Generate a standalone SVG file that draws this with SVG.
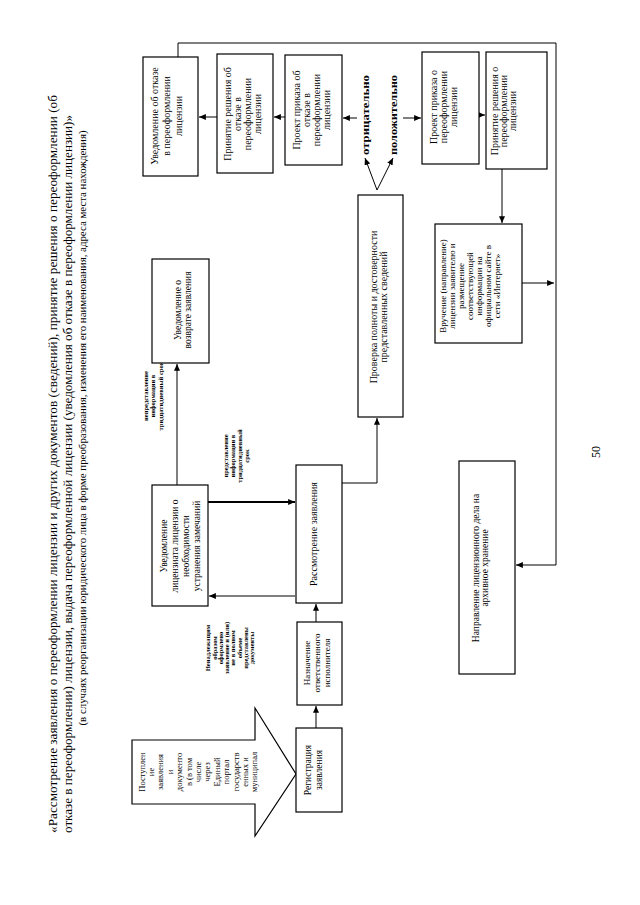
<svg xmlns="http://www.w3.org/2000/svg" width="640" height="905" viewBox="0 0 640 905">
<defs>
<marker id="ah" viewBox="0 0 8 7" refX="8" refY="3.5" markerWidth="7" markerHeight="6" markerUnits="userSpaceOnUse" orient="auto">
<path d="M0,0 L8,3.5 L0,7 z" fill="#000"/>
</marker>
</defs>
<style>
.box{fill:#fff;stroke:#000;stroke-width:1.2}
.t{font-family:"Liberation Serif","Times New Roman",serif;fill:#000}
.bt{font-family:"Liberation Serif","Times New Roman",serif;font-size:9.5px;fill:#000}
.lb{font-family:"Liberation Serif","Times New Roman",serif;font-size:6.5px;font-weight:bold;fill:#000}
.ar{fill:none;stroke:#000;stroke-width:1;marker-end:url(#ah)}
</style>
<rect width="640" height="905" fill="#fff"/>

<g id="title" class="t">
<text transform="translate(57,833) rotate(-90)" font-size="13.5" textLength="738" lengthAdjust="spacingAndGlyphs">«Рассмотрение заявления о переоформлении лицензии и других документов (сведений), принятие решения о переоформлении (об</text>
<text transform="translate(72,833) rotate(-90)" font-size="13.5" textLength="718" lengthAdjust="spacingAndGlyphs">отказе в переоформлении) лицензии, выдача переоформленной лицензии (уведомления об отказе в переоформлении лицензии)»</text>
<text transform="translate(86,428) rotate(-90)" font-size="11" text-anchor="middle" textLength="595" lengthAdjust="spacingAndGlyphs">(в случаях реорганизации юридического лица в форме преобразования, изменения его наименования, адреса места нахождения)</text>
</g>

<g id="page-number" class="t">
<text transform="translate(600,452) rotate(-90)" font-size="12" text-anchor="middle">50</text>
</g>

<g id="connectors">
<path class="ar" d="M316,728 V706"/>
<path class="ar" d="M316,622 V604"/>
<path class="ar" d="M295,596 H209"/>
<path class="ar" d="M208,502 H295" style="stroke-width:1.8"/>
<path class="ar" d="M177,485 V364"/>
<path class="ar" d="M341,483 H377 V418"/>
<path class="ar" d="M377,190 L365,158"/>
<path class="ar" d="M377,190 L393,158"/>
<path class="ar" d="M357,118 H343"/>
<path class="ar" d="M403,118 H421"/>
<path class="ar" d="M285,117 H274"/>
<path class="ar" d="M217,117 H199"/>
<path class="ar" d="M479,115 H485"/>
<path class="ar" d="M502,169 V223"/>
<path class="ar" d="M522,283 H554"/>
<path class="ar" d="M178,57 V43 H556 V565 H516"/>
</g>

<g id="labels">
<text class="lb" transform="translate(230,648) rotate(-90)" text-anchor="middle"><tspan x="0" y="-19.75">Ненадлежащим</tspan><tspan x="0" dy="6.3">образом</tspan><tspan x="0" dy="6.3">оформлено</tspan><tspan x="0" dy="6.3">заявление и (или)</tspan><tspan x="0" dy="6.3">не в полном</tspan><tspan x="0" dy="6.3">объеме</tspan><tspan x="0" dy="6.3">представлены</tspan><tspan x="0" dy="6.3">документы</tspan></text>
<text class="lb" transform="translate(236,456) rotate(-90)" text-anchor="middle"><tspan x="0" y="-8.2">представление</tspan><tspan x="0" dy="7">информации в</tspan><tspan x="0" dy="7">тридцатидневный</tspan><tspan x="0" dy="7">срок</tspan></text>
<text class="lb" transform="translate(153,396) rotate(-90)" text-anchor="middle"><tspan x="0" y="-5.2">непредставление</tspan><tspan x="0" dy="7.5">информации в</tspan><tspan x="0" dy="7.5">тридцатидневный срок</tspan></text>
<text class="t" transform="translate(368.5,115) rotate(-90)" text-anchor="middle" font-size="10" font-weight="bold" textLength="80" lengthAdjust="spacingAndGlyphs">отрицательно</text>
<text class="t" transform="translate(396.5,115) rotate(-90)" text-anchor="middle" font-size="10" font-weight="bold" textLength="80" lengthAdjust="spacingAndGlyphs">положительно</text>
</g>

<g id="n_postuplenie">
<polygon class="box" points="132,740 255,740 255,708 296,774 255,836 255,804 132,804"/>
<text class="bt" transform="translate(198,772) rotate(-90)" text-anchor="middle" style="font-size:8.5px"><tspan x="0" y="-53.4">Поступлен</tspan><tspan x="0" dy="9.4">ие</tspan><tspan x="0" dy="9.4">заявления</tspan><tspan x="0" dy="9.4">и</tspan><tspan x="0" dy="9.4">документо</tspan><tspan x="0" dy="9.4">в (в том</tspan><tspan x="0" dy="9.4">числе</tspan><tspan x="0" dy="9.4">через</tspan><tspan x="0" dy="9.4">Единый</tspan><tspan x="0" dy="9.4">портал</tspan><tspan x="0" dy="9.4">государств</tspan><tspan x="0" dy="9.4">енных и</tspan><tspan x="0" dy="9.4">муниципал</tspan></text>
</g>

<g id="n_registr">
<rect class="box" x="296" y="728" width="46" height="84"/>
<text class="bt" transform="translate(313,770) rotate(-90)" text-anchor="middle"><tspan x="0" y="-2.2">Регистрация</tspan><tspan x="0" dy="11">заявления</tspan></text>
</g>

<g id="n_naznach">
<rect class="box" x="297" y="622" width="45" height="83"/>
<text class="bt" transform="translate(317,663) rotate(-90)" text-anchor="middle" style="font-size:9px"><tspan x="0" y="-6.85">Назначение</tspan><tspan x="0" dy="10">ответственного</tspan><tspan x="0" dy="10">исполнителя</tspan></text>
</g>

<g id="n_rassm">
<rect class="box" x="296" y="465" width="46" height="138"/>
<text class="bt" transform="translate(313,534) rotate(-90)" text-anchor="middle" style="font-size:10px"><tspan x="0" y="3.5">Рассмотрение заявления</tspan></text>
</g>

<g id="n_uved_lic">
<rect class="box" x="152" y="485" width="56" height="121"/>
<text class="bt" transform="translate(180,546) rotate(-90)" text-anchor="middle"><tspan x="0" y="-13.2">Уведомление</tspan><tspan x="0" dy="11">лицензиата лицензии о</tspan><tspan x="0" dy="11">необходимости</tspan><tspan x="0" dy="11">устранения замечаний</tspan></text>
</g>

<g id="n_uved_vozvr">
<rect class="box" x="152" y="259" width="57" height="104"/>
<text class="bt" transform="translate(183,310) rotate(-90)" text-anchor="middle"><tspan x="0" y="-1.7">Уведомление о</tspan><tspan x="0" dy="10">возврате заявления</tspan></text>
</g>

<g id="n_proverka">
<rect class="box" x="358" y="195" width="45" height="222"/>
<text class="bt" transform="translate(378,307) rotate(-90)" text-anchor="middle" style="font-size:10px"><tspan x="0" y="-1.5">Проверка полноты и достоверности</tspan><tspan x="0" dy="10">представленных сведений</tspan></text>
</g>

<g id="n_uved_otkaz">
<rect class="box" x="143" y="57" width="55" height="119"/>
<text class="bt" transform="translate(166,116) rotate(-90)" text-anchor="middle" style="font-size:10px"><tspan x="0" y="-8.5">Уведомление об отказе</tspan><tspan x="0" dy="12">в переоформлении</tspan><tspan x="0" dy="12">лицензии</tspan></text>
</g>

<g id="n_prin_otkaz">
<rect class="box" x="217" y="54" width="56" height="119"/>
<text class="bt" transform="translate(242,114) rotate(-90)" text-anchor="middle" style="font-size:10px"><tspan x="0" y="-11.5">Принятие решения об</tspan><tspan x="0" dy="10">отказе в</tspan><tspan x="0" dy="10">переоформлении</tspan><tspan x="0" dy="10">лицензии</tspan></text>
</g>

<g id="n_proekt_otkaz">
<rect class="box" x="285" y="55" width="57" height="110"/>
<text class="bt" transform="translate(311,110) rotate(-90)" text-anchor="middle" style="font-size:10px"><tspan x="0" y="-11.5">Проект приказа об</tspan><tspan x="0" dy="10">отказе в</tspan><tspan x="0" dy="10">переоформлении</tspan><tspan x="0" dy="10">лицензии</tspan></text>
</g>

<g id="n_proekt_pereof">
<rect class="box" x="422" y="52" width="57" height="112"/>
<text class="bt" transform="translate(443,107) rotate(-90)" text-anchor="middle" style="font-size:10px"><tspan x="0" y="-6.5">Проект приказа о</tspan><tspan x="0" dy="10">переоформлении</tspan><tspan x="0" dy="10">лицензии</tspan></text>
</g>

<g id="n_prin_pereof">
<rect class="box" x="486" y="52" width="61" height="117"/>
<text class="bt" transform="translate(503,111) rotate(-90)" text-anchor="middle" style="font-size:10px"><tspan x="0" y="-5.5">Принятие решения о</tspan><tspan x="0" dy="9">переоформлении</tspan><tspan x="0" dy="9">лицензии</tspan></text>
</g>

<g id="n_vruchenie">
<rect class="box" x="435" y="224" width="87" height="119"/>
<text class="bt" transform="translate(470,286) rotate(-90)" text-anchor="middle" style="font-size:9px"><tspan x="0" y="-23.85">Вручение (направление)</tspan><tspan x="0" dy="9">лицензии заявителю и</tspan><tspan x="0" dy="9">размещение</tspan><tspan x="0" dy="9">соответствующей</tspan><tspan x="0" dy="9">информации на</tspan><tspan x="0" dy="9">официальном сайте в</tspan><tspan x="0" dy="9">сети «Интернет»</tspan></text>
</g>

<g id="n_napravl">
<rect class="box" x="459" y="461" width="56" height="213"/>
<text class="bt" transform="translate(480,568) rotate(-90)" text-anchor="middle"><tspan x="0" y="-1.2">Направление лицензионного дела на</tspan><tspan x="0" dy="9.5">архивное хранение</tspan></text>
</g>
</svg>
